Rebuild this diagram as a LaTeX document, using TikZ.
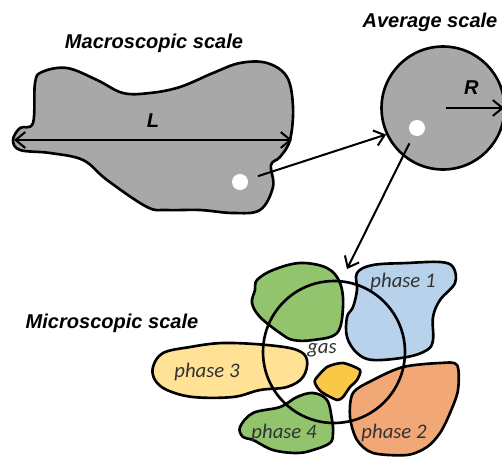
\documentclass[tikz,border=0pt]{standalone}
\usepackage{fontspec}
\setsansfont{Liberation Sans}
\newfontfamily\phasefont{Carlito}
\usetikzlibrary{arrows.meta,positioning,calc}
\definecolor{macgray}{RGB}{168,168,168}
\definecolor{phgreen}{RGB}{146,196,110}
\definecolor{phblue}{RGB}{184,210,236}
\definecolor{phorange}{RGB}{242,168,118}
\definecolor{phyellow}{RGB}{255,226,150}
\definecolor{phgold}{RGB}{250,200,70}
\definecolor{phtext}{RGB}{50,50,50}
\begin{document}
\begin{tikzpicture}[x=0.02cm, y=-0.02cm, >={Straight Barb[length=5.5pt,width=9pt]},
      title/.style={font=\sffamily\bfseries\itshape\fontsize{11.4}{13}\selectfont},
      phase/.style={font=\phasefont\itshape\fontsize{11.8}{13}\selectfont, text=phtext},
      blob/.style={draw, line width=1.5pt, line join=round},
      dot/.style={circle, fill=white, inner sep=0pt, minimum size=0.32cm},
      arr/.style={->, line width=1.15pt}]
      \useasboundingbox (0,0) rectangle (502,456);
      % macroscopic body
      \fill[white] (0,0) rectangle (502,456);
      \draw[blob, fill=macgray] plot[smooth cycle, tension=0.6] coordinates {
            (13,140) (20,128) (33,123) (35,83) (42,72) (67,68) (97,80) (123,93)
            (150,93) (180,87) (213,73) (240,63) (267,63) (287,77) (293,107)
            (290,140) (280,157) (271,165) (273,187) (260,210) (233,213) (200,210)
            (167,210) (147,207) (107,180) (83,160) (50,153) (20,150)};
      \node[title] (mactitle) at (154,43) {Macroscopic scale};
      \coordinate (lleft) at (14,140);
      \coordinate (lright) at (292,140);
      \draw[<->, line width=1.15pt] (lleft) -- node[above=3pt, title] (L) {L} (lright);
      \node[dot] (macdot) at (240,182) {};
      % average volume
      \node[circle, draw, line width=1.5pt, fill=macgray, minimum size=2.46cm, inner sep=0pt] (avg) at (443,108) {};
      \node[title] (avgtitle) at (430,22) {Average scale};
      \node[dot] (avgdot) at (417,128) {};
      \draw[arr, shorten <=1.5pt, shorten >=1pt] (avg.center) -- node[above=4pt, title, pos=0.45] (R) {R} (avg.east);
      \draw[arr, shorten <=6pt] (macdot) -- (avg.205);
      \coordinate (micro) at (347,269);
      \draw[arr, shorten <=5pt] (avgdot) -- (micro);
      % microscopic phases
      \node[title] (mictitle) at (112,323) {Microscopic scale};
      \draw[blob, fill=phgreen] plot[smooth cycle, tension=0.6] coordinates {
            (257,280) (273,270) (300,263) (327,268) (340,283) (343,307) (337,333)
            (313,340) (293,340) (280,333) (260,317) (252,303) (255,290)};
      \draw[blob, fill=phblue] plot[smooth cycle, tension=0.6] coordinates {
            (357,273) (373,265) (407,263) (440,262) (453,267) (455,283) (440,300)
            (433,317) (433,340) (427,350) (407,357) (373,360) (357,353) (347,337)
            (347,317) (353,307) (357,290)};
      \draw[blob, fill=phorange] plot[smooth cycle, tension=0.5] coordinates {
            (353,393) (373,380) (403,367) (440,363) (457,365) (458,390) (450,413)
            (440,433) (427,447) (407,455) (373,453) (357,440) (350,417)};
      \draw[blob, fill=phyellow] plot[smooth cycle, tension=0.6] coordinates {
            (153,367) (163,353) (190,347) (223,343) (267,345) (297,350) (307,360)
            (303,377) (287,387) (260,390) (233,397) (193,397) (167,390) (155,380)};
      \draw[blob, fill=phgold] plot[smooth cycle, tension=0.4] coordinates {
            (315,380) (327,367) (343,363) (360,370) (357,380) (350,387) (343,397)
            (337,400) (323,393) (317,387)};
      \draw[blob, fill=phgreen] plot[smooth cycle, tension=0.6] coordinates {
            (240,427) (253,413) (280,407) (297,397) (313,393) (327,400) (332,420)
            (333,433) (330,443) (313,450) (297,453) (273,450) (253,440) (243,437)};
      \node[circle, draw, line width=1.5pt, minimum size=2.84cm, inner sep=0pt] (mic) at (334,352) {};
      \node[phase] (p1) at (403,282) {phase 1};
      \node[phase] (p2) at (394,433) {phase 2};
      \node[phase] (p3) at (207,372) {phase 3};
      \node[phase] (p4) at (284,433) {phase 4};
      \node[phase] (gas) at (322,350) {gas};
\end{tikzpicture}
\end{document}
